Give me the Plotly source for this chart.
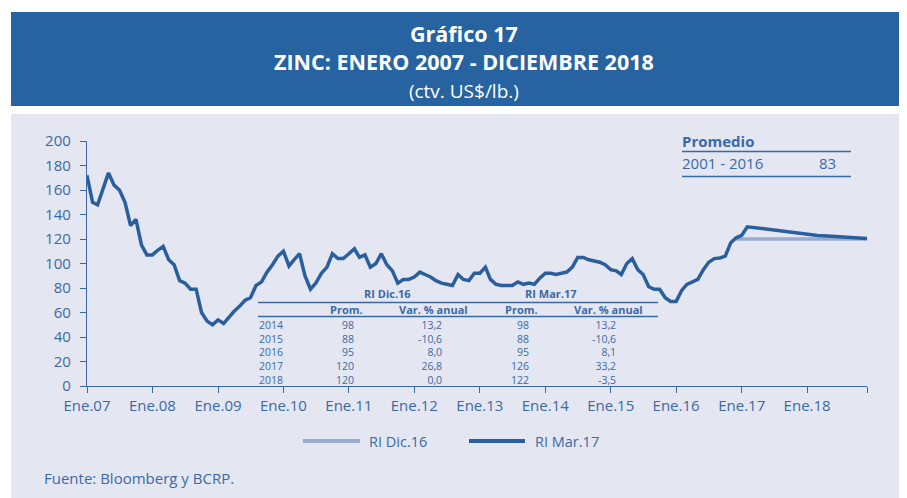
import pandas as pd
import plotly.graph_objects as go

months = pd.date_range("2007-01-01", "2018-12-01", freq="MS")

ri_mar17 = [
    172, 150, 148, 161, 174, 164, 160, 150, 131, 136, 115, 107,  # 2007
    107, 111, 114, 103, 99, 86, 84, 79, 79, 60, 53, 50,  # 2008
    54, 51, 56, 61, 65, 70, 72, 82, 85, 93, 99, 106,  # 2009
    110, 98, 103, 108, 90, 79, 84, 92, 97, 108, 104, 104,  # 2010
    108, 112, 105, 107, 97, 100, 108, 99, 94, 84, 87, 87,  # 2011
    89, 93, 91, 89, 86, 84, 83, 82, 91, 87, 86, 92,  # 2012
    92, 97, 87, 83, 82, 82, 82, 85, 83, 84, 83, 88,  # 2013
    92, 92, 91, 92, 93, 97, 105, 105, 103, 102, 101, 99,  # 2014
    95, 94, 91, 100, 104, 95, 91, 81, 79, 79, 72, 69,  # 2015
    69, 78, 83, 85, 87, 95, 101, 104, 104.5, 106, 117, 121,  # 2016
    123, 130, 129.5, 129, 128.3, 127.7, 127, 126.3, 125.7, 125.1, 124.6, 124.1,  # 2017
    123.7, 123.3, 122.9, 122.6, 122.3, 122.0, 121.7, 121.4, 121.1, 120.9, 120.7, 120.5,  # 2018
]

ri_dic16 = [None] * 119 + [
    120,  # Dic.16
    120, 120, 120, 120, 120, 120, 120, 120, 120, 120, 120, 120,  # 2017
    120, 120, 120, 120, 120, 120, 120, 120, 120, 120, 120, 120,  # 2018
]

tick_dates = [f"{y}-01-01" for y in range(2007, 2019)] + ["2018-12-01"]
tick_text = [f"Ene.{y % 100:02d}" for y in range(2007, 2019)] + [""]

table_years = ["2014", "2015", "2016", "2017", "2018"]
dic16_prom = ["98", "88", "95", "120", "120"]
dic16_var = ["13,2", "-10,6", "8,0", "26,8", "0,0"]
mar17_prom = ["98", "88", "95", "126", "122"]
mar17_var = ["13,2", "-10,6", "8,1", "33,2", "-3,5"]

DARK = "#2a5f9e"
LIGHT = "#98abd0"
TEXT = "#3a6aa6"
HEADER = "#2663a0"
PANEL = "#e4e6f1"
FONT = "Open Sans"

# page has an 8px body margin; positions below are page pixels
OFF = 8
W, H = 907 - OFF, 498 - OFF
L, R, T, B = 87, 867, 141, 386  # plot area on the page


def px_x(v):
    return (v - L) / (R - L)


def px_y(v):
    return (B - v) / (B - T)


fig = go.Figure()
fig.add_trace(go.Scatter(x=months, y=ri_dic16, mode="lines", name="RI Dic.16",
                         line=dict(color=LIGHT, width=3.5)))
fig.add_trace(go.Scatter(x=months, y=ri_mar17, mode="lines", name="RI Mar.17",
                         line=dict(color=DARK, width=3.5)))


def hline(x0, x1, y, color=TEXT, width=1.3):
    return dict(type="line", xref="paper", yref="paper", x0=px_x(x0), x1=px_x(x1),
                y0=px_y(y), y1=px_y(y), line=dict(color=color, width=width))


shapes = [
    dict(type="rect", xref="paper", yref="paper", x0=px_x(11), x1=px_x(915), y0=px_y(114), y1=px_y(510),
         fillcolor=PANEL, line_width=0, layer="below"),
    dict(type="rect", xref="paper", yref="paper", x0=px_x(11), x1=px_x(915), y0=px_y(12), y1=px_y(106),
         fillcolor=HEADER, line_width=0, layer="below"),
    hline(258, 658, 302.5), hline(258, 658, 316.5),
    hline(682, 851, 151.5), hline(682, 851, 176.5),
    # legend keys
    hline(303, 360, 441, LIGHT, 4), hline(469, 525, 441, DARK, 4),
]

ann = []


def text(x, y, s, size=11, bold=False, anchor="center", color=TEXT, align="left"):
    ann.append(dict(x=px_x(x), y=px_y(y), xref="paper", yref="paper", text=f"<b>{s}</b>" if bold else s,
                    showarrow=False, xanchor=anchor, yanchor="middle", align=align, borderpad=0,
                    font=dict(family=FONT, size=size, color=color)))


text(464, 61, "<b>Gráfico 17</b><br><b>ZINC: ENERO 2007 - DICIEMBRE 2018</b><br>"
     "<span style='font-size:19px'>(ctv. US$/lb.)</span>", size=21.5, color="white", align="center")

text(387, 293, "RI Dic.16", bold=True)
text(551, 293, "RI Mar.17", bold=True)
text(346, 309.5, "Prom.", bold=True)
text(433, 309.5, "Var. % anual", bold=True)
text(521, 309.5, "Prom.", bold=True)
text(608, 309.5, "Var. % anual", bold=True)
text(258, 352, "<br>".join(table_years), size=10.5, anchor="left")
text(355, 352, "<br>".join(dic16_prom), size=10.5, anchor="right", align="right")
text(443, 352, "<br>".join(dic16_var), size=10.5, anchor="right", align="right")
text(530, 352, "<br>".join(mar17_prom), size=10.5, anchor="right", align="right")
text(617, 352, "<br>".join(mar17_var), size=10.5, anchor="right", align="right")

text(681, 141, "Promedio", size=15, bold=True, anchor="left")
text(681, 163, "2001 - 2016", size=15, anchor="left")
text(827, 163, "83", size=15)

text(368, 441, "RI Dic.16", size=14.5, anchor="left")
text(534, 441, "RI Mar.17", size=14.5, anchor="left")

text(43, 478, "Fuente: Bloomberg y BCRP.", size=15, anchor="left")

axis_common = dict(showline=True, linecolor=TEXT, linewidth=1.3, ticks="outside", tickcolor=TEXT,
                   ticklen=6, tickwidth=1.3, showgrid=False, zeroline=False,
                   tickfont=dict(family=FONT, size=15, color=TEXT))

fig.update_layout(
    width=W, height=H,
    margin=dict(l=L - OFF, r=W - (R - OFF), t=T - OFF, b=H - (B - OFF)),
    paper_bgcolor="white", plot_bgcolor="rgba(0,0,0,0)",
    shapes=shapes, annotations=ann, showlegend=False,
    xaxis=dict(range=["2007-01-01", "2018-12-01"], tickvals=tick_dates, ticktext=tick_text, **axis_common),
    yaxis=dict(range=[0, 200], tickvals=list(range(0, 201, 20)), ticklabelstandoff=6, **axis_common),
    font=dict(family=FONT, color=TEXT),
)

fig.write_html("out.html")
